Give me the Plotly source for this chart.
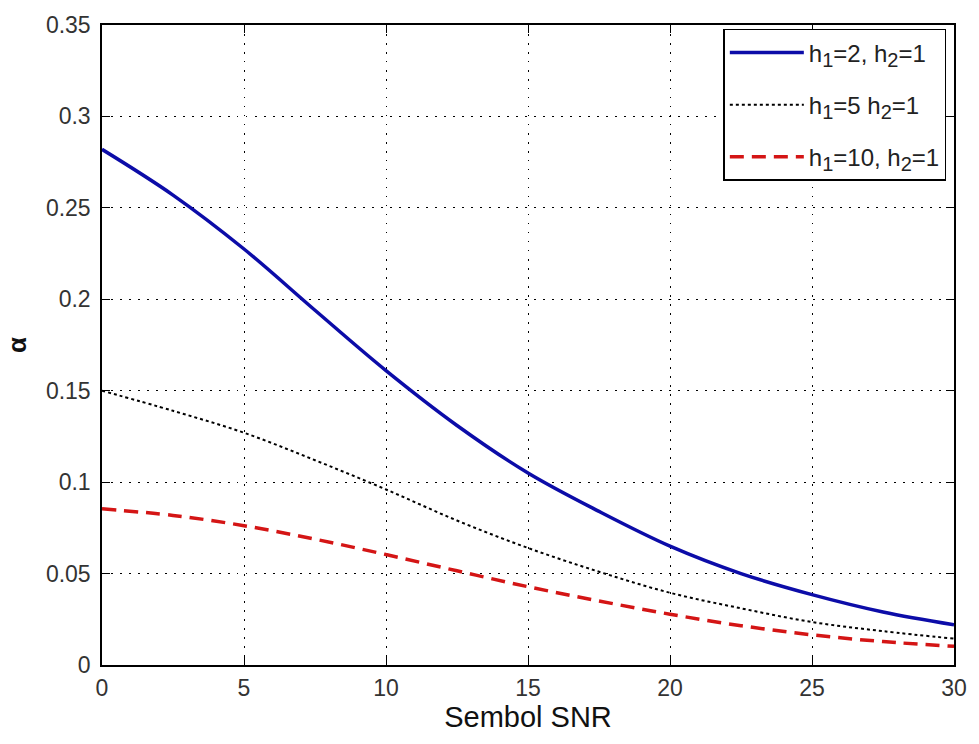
import plotly.graph_objects as go

# Symbol SNR grid and alpha values for the three channel-gain pairs
snr = [0, 2.5, 5, 7.5, 10, 12.5, 15, 17.5, 20, 22.5, 25, 27.5, 30]
alpha_h2 = [0.282, 0.257, 0.2275, 0.194, 0.161, 0.131, 0.105, 0.084, 0.065, 0.050, 0.0385, 0.029, 0.022]
alpha_h5 = [0.150, 0.139, 0.127, 0.112, 0.096, 0.079, 0.064, 0.051, 0.0395, 0.031, 0.0235, 0.0185, 0.0144]
alpha_h10 = [0.0854, 0.0818, 0.0762, 0.0688, 0.0604, 0.0515, 0.0428, 0.035, 0.0278, 0.0215, 0.0165, 0.0128, 0.0102]

SUB = '<sub><span style="font-size:20px">{}</span></sub>'
labels = [
    "h" + SUB.format(1) + "=2, h" + SUB.format(2) + "=1",
    "h" + SUB.format(1) + "=5 h" + SUB.format(2) + "=1",
    "h" + SUB.format(1) + "=10, h" + SUB.format(2) + "=1",
]
x_ticks = [0, 5, 10, 15, 20, 25, 30]
y_ticks = [0, 0.05, 0.1, 0.15, 0.2, 0.25, 0.3, 0.35]
y_tick_text = ["0", "0.05", "0.1", "0.15", "0.2", "0.25", "0.3", "0.35"]

FONT = "Liberation Sans, Arial"

fig = go.Figure()
fig.add_trace(go.Scatter(x=snr, y=alpha_h2, mode="lines", name=labels[0], legendgroup="a",
                         line=dict(color="#0c0ca8", width=3.5, shape="spline")))
fig.add_trace(go.Scatter(x=snr, y=alpha_h5, mode="lines", name=labels[1], legendgroup="b",
                         line=dict(color="#000000", width=2, dash="dot", shape="spline")))
fig.add_trace(go.Scatter(x=snr, y=alpha_h10, mode="lines", name=labels[2], legendgroup="c",
                         line=dict(color="#d41515", width=3.5, dash="14px,8px", shape="spline")))

axis_common = dict(
    showline=True, linecolor="black", linewidth=1.5, mirror="ticks",
    ticks="inside", ticklen=8, tickcolor="black",
    showgrid=True, gridcolor="black", gridwidth=1, griddash="1.5px,7.5px",
    zeroline=False,
    tickfont=dict(family=FONT, size=23, color="#333333"),
)

fig.update_xaxes(range=[0, 30], tickvals=x_ticks, ticklabelstandoff=2,
                 title=dict(text="Sembol SNR", standoff=2,
                            font=dict(family=FONT, size=29, color="#111")),
                 **axis_common)
fig.update_yaxes(range=[0, 0.35], tickvals=y_ticks, ticktext=y_tick_text,
                 ticklabelstandoff=5,
                 title=dict(text="<b>α</b>", standoff=12,
                            font=dict(family=FONT, size=26, color="#111")),
                 **axis_common)

fig.update_layout(
    width=979, height=744,
    margin=dict(l=102, r=24, t=16, b=79),
    paper_bgcolor="white", plot_bgcolor="white",
    legend=dict(
        x=0.991, y=0.994, xanchor="right", yanchor="top",
        bgcolor="white", bordercolor="black", borderwidth=1.5,
        font=dict(family=FONT, size=24, color="#222"),
        itemwidth=74, traceorder="grouped", tracegroupgap=18,
    ),
    showlegend=True,
)

fig.write_html("out.html")
